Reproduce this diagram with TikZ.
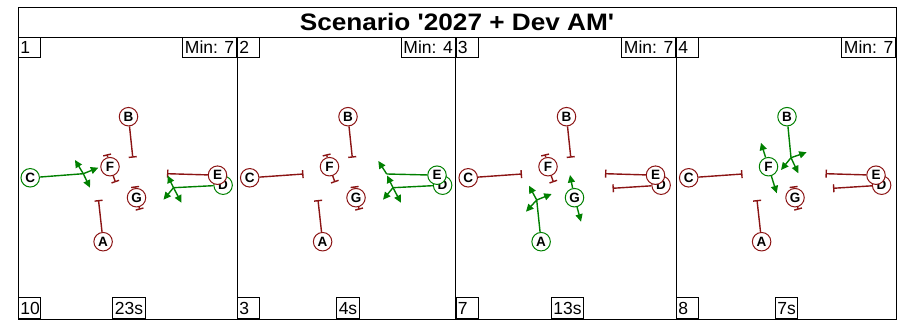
\documentclass[tikz,border=0pt]{standalone}
\usepackage{fontspec}
\setmainfont{Liberation Sans}
\newfontfamily\titlefont[FakeStretch=1.1,Ligatures=TeXOff]{Liberation Sans}
\usetikzlibrary{arrows.meta}
\definecolor{sred}{RGB}{139,20,20}
\definecolor{sgreen}{RGB}{0,128,0}
\pgfdeclarelayer{bg}
\pgfdeclarelayer{paper}
\pgfsetlayers{paper,bg,main}
\tikzset{
 sig/.style={circle, draw, fill=white, minimum size=18.5pt, inner sep=0pt, line width=1pt,
   font=\fontsize{13.5}{13.5}\selectfont\bfseries},
 rs/.style={sig, draw=sred},
 gs/.style={sig, draw=sgreen},
 rl/.style={draw=sred, line width=1.4pt, -{Bar[width=8pt]}},
 gl/.style={draw=sgreen, line width=1.4pt},
 ga/.style={gl, -{Triangle[length=7.5pt,width=7pt]}},
 lbl/.style={draw, line width=0.8pt, inner sep=0pt, minimum height=20pt,
   font=\fontsize{17.5}{17.5}\selectfont},
 numbox/.style={lbl, text width=18pt, inner xsep=2pt, align=left},
 minbox/.style={lbl, minimum width=54pt, anchor=north east},
 timebox/.style={lbl, minimum width=22pt, inner xsep=2pt, anchor=south, minimum height=21pt},
 frame/.style={line width=0.8pt}
}
\begin{document}
\begin{tikzpicture}[x=1pt,y=-1pt]
\useasboundingbox (0,0) rectangle (899,328);
\begin{pgfonlayer}{paper}
 \fill[white] (0,0) rectangle (899,328);
\end{pgfonlayer}
% ---------------- panel 1 ----------------
\begin{scope}[shift={(17.5,0)}]
 \node[rs] (B1) at (111,116.7) {B};
 \node[rs] (F1) at (92.5,166.7) {F};
 \node[gs] (C1) at (12.7,177.8) {C};
 \node[rs] (G1) at (119,197.7) {G};
 \node[gs] (D1) at (205.6,185.2) {D};
 \node[rs] (E1) at (200,175.2) {E};
 \node[rs] (A1) at (85.6,241.7) {A};
 \coordinate (b1) at (115.3,157.7);
 \coordinate (f1a) at (89.5,154.3);
 \coordinate (f1b) at (98,182.3);
 \coordinate (g1a) at (117.5,186.3);
 \coordinate (g1b) at (122.3,209.7);
 \coordinate (a1) at (81,200);
 \coordinate (e1) at (149.5,173.7);
 \coordinate (cp1) at (65.8,173.7);
 \coordinate (cs1) at (80.8,167.7);
 \coordinate (cl1) at (57.5,160);
 \coordinate (cr1) at (72.5,187.7);
 \coordinate (dp1) at (156,187.7);
 \coordinate (du1) at (150,175.5);
 \coordinate (dl1) at (146,199.7);
 \coordinate (dr1) at (164,202.8);
 \begin{pgfonlayer}{bg}
  \draw[rl] (B1) -- (b1);
  \draw[rl] (F1) -- (f1a);
  \draw[rl] (F1) -- (f1b);
  \draw[rl] (G1) -- (g1a);
  \draw[rl] (G1) -- (g1b);
  \draw[rl] (A1) -- (a1);
  \draw[rl] (E1) -- (e1);
  \draw[gl] (C1) -- (cp1);
  \draw[ga] (cp1) -- (cs1);
  \draw[ga] (cp1) -- (cl1);
  \draw[ga] (cp1) -- (cr1);
  \draw[gl] (D1) -- (dp1);
  \draw[ga] (dp1) -- (du1);
  \draw[ga] (dp1) -- (dl1);
  \draw[ga] (dp1) -- (dr1);
 \end{pgfonlayer}
\end{scope}
% ---------------- panel 2 ----------------
\begin{scope}[shift={(237,0)}]
 \node[rs] (B2) at (111,116.7) {B};
 \node[rs] (F2) at (92.5,166.7) {F};
 \node[rs] (C2) at (12.7,177.8) {C};
 \node[rs] (G2) at (119,197.7) {G};
 \node[gs] (D2) at (205.6,185.2) {D};
 \node[gs] (E2) at (200,175.2) {E};
 \node[rs] (A2) at (85.6,241.7) {A};
 \coordinate (b2) at (115.3,157.7);
 \coordinate (f2a) at (89.5,154.3);
 \coordinate (f2b) at (98,182.3);
 \coordinate (g2a) at (117.5,186.3);
 \coordinate (g2b) at (122.3,209.7);
 \coordinate (a2) at (81,200);
 \coordinate (c2) at (66.5,174);
 \coordinate (ep2) at (149.7,174);
 \coordinate (el2) at (141.3,161);
 \coordinate (dp2) at (156,187.7);
 \coordinate (du2) at (150,175.5);
 \coordinate (dl2) at (146,199.7);
 \coordinate (dr2) at (164,202.8);
 \begin{pgfonlayer}{bg}
  \draw[rl] (B2) -- (b2);
  \draw[rl] (F2) -- (f2a);
  \draw[rl] (F2) -- (f2b);
  \draw[rl] (G2) -- (g2a);
  \draw[rl] (G2) -- (g2b);
  \draw[rl] (A2) -- (a2);
  \draw[rl] (C2) -- (c2);
  \draw[gl] (E2) -- (ep2);
  \draw[ga] (ep2) -- (el2);
  \draw[gl] (D2) -- (dp2);
  \draw[ga] (dp2) -- (du2);
  \draw[ga] (dp2) -- (dl2);
  \draw[ga] (dp2) -- (dr2);
 \end{pgfonlayer}
\end{scope}
% ---------------- panel 3 ----------------
\begin{scope}[shift={(455.5,0)}]
 \node[rs] (B3) at (111,116.7) {B};
 \node[rs] (F3) at (92.5,166.7) {F};
 \node[rs] (C3) at (12.7,177.8) {C};
 \node[gs] (G3) at (119,197.7) {G};
 \node[rs] (D3) at (205.6,185.2) {D};
 \node[rs] (E3) at (200,175.2) {E};
 \node[gs] (A3) at (85.6,241.7) {A};
 \coordinate (b3) at (115.3,157.7);
 \coordinate (f3a) at (89.5,154.3);
 \coordinate (f3b) at (98,182.3);
 \coordinate (c3) at (66.5,174);
 \coordinate (e3) at (149.5,173.7);
 \coordinate (d3) at (157,188.3);
 \coordinate (ap3) at (81.2,200);
 \coordinate (au3) at (73.5,185.7);
 \coordinate (ar3) at (96.2,194);
 \coordinate (al3) at (70.5,211.7);
 \coordinate (gu3) at (114.5,175);
 \coordinate (gd3) at (125.5,221.7);
 \begin{pgfonlayer}{bg}
  \draw[rl] (B3) -- (b3);
  \draw[rl] (F3) -- (f3a);
  \draw[rl] (F3) -- (f3b);
  \draw[rl] (C3) -- (c3);
  \draw[rl] (E3) -- (e3);
  \draw[rl] (D3) -- (d3);
  \draw[gl] (A3) -- (ap3);
  \draw[ga] (ap3) -- (au3);
  \draw[ga] (ap3) -- (ar3);
  \draw[ga] (ap3) -- (al3);
  \draw[ga] (G3) -- (gu3);
  \draw[ga] (G3) -- (gd3);
 \end{pgfonlayer}
\end{scope}
% ---------------- panel 4 ----------------
\begin{scope}[shift={(676,0)}]
 \node[gs] (B4) at (111,116.7) {B};
 \node[gs] (F4) at (92.5,166.7) {F};
 \node[rs] (C4) at (12.7,177.8) {C};
 \node[rs] (G4) at (119,197.7) {G};
 \node[rs] (D4) at (205.6,185.2) {D};
 \node[rs] (E4) at (200,175.2) {E};
 \node[rs] (A4) at (85.6,241.7) {A};
 \coordinate (bp4) at (115,157.7);
 \coordinate (br4) at (130.7,152.3);
 \coordinate (bd4) at (122.3,173.3);
 \coordinate (bl4) at (105,170);
 \coordinate (fu4) at (85,142.7);
 \coordinate (fd4) at (100.7,193.3);
 \coordinate (c4) at (66.5,174);
 \coordinate (a4) at (81,200);
 \coordinate (g4a) at (117.5,186.3);
 \coordinate (g4b) at (122.3,209.7);
 \coordinate (e4) at (149.5,173.7);
 \coordinate (d4) at (157,188.3);
 \begin{pgfonlayer}{bg}
  \draw[gl] (B4) -- (bp4);
  \draw[ga] (bp4) -- (br4);
  \draw[ga] (bp4) -- (bd4);
  \draw[ga] (bp4) -- (bl4);
  \draw[ga] (F4) -- (fu4);
  \draw[ga] (F4) -- (fd4);
  \draw[rl] (C4) -- (c4);
  \draw[rl] (A4) -- (a4);
  \draw[rl] (G4) -- (g4a);
  \draw[rl] (G4) -- (g4b);
  \draw[rl] (E4) -- (e4);
  \draw[rl] (D4) -- (d4);
 \end{pgfonlayer}
\end{scope}
% ---------------- frame and title ----------------
\draw[frame] (18,7) rectangle (896,319);
\draw[frame] (18,37) -- (896,37);
\draw[frame] (237,37) -- (237,319);
\draw[frame] (455.5,37) -- (455.5,319);
\draw[frame] (676,37) -- (676,319);
\node[font=\titlefont\bfseries\fontsize{23.8}{24}\selectfont, anchor=base] (title) at (457,31) {Scenario '2027 + Dev AM'};
% ---------------- labels ----------------
\node[numbox, anchor=north west] (n1) at (18,37) {1};
\node[numbox, anchor=north west] (n2) at (237,37) {2};
\node[numbox, anchor=north west] (n3) at (455.5,37) {3};
\node[numbox, anchor=north west] (n4) at (676,37) {4};
\node[minbox] (m1) at (237,37) {Min: 7};
\node[minbox] (m2) at (455.5,37) {Min: 4};
\node[minbox] (m3) at (676,37) {Min: 7};
\node[minbox] (m4) at (896,37) {Min: 7};
\node[numbox, anchor=south west, minimum height=21pt] (k1) at (18,319) {10};
\node[numbox, anchor=south west, minimum height=21pt] (k2) at (237,319) {3};
\node[numbox, anchor=south west, minimum height=21pt] (k3) at (455.5,319) {7};
\node[numbox, anchor=south west, minimum height=21pt] (k4) at (676,319) {8};
\node[timebox] (t1) at (129,319) {23s};
\node[timebox] (t2) at (348,319) {4s};
\node[timebox] (t3) at (567.5,319) {13s};
\node[timebox] (t4) at (786.5,319) {7s};
\end{tikzpicture}
\end{document}
